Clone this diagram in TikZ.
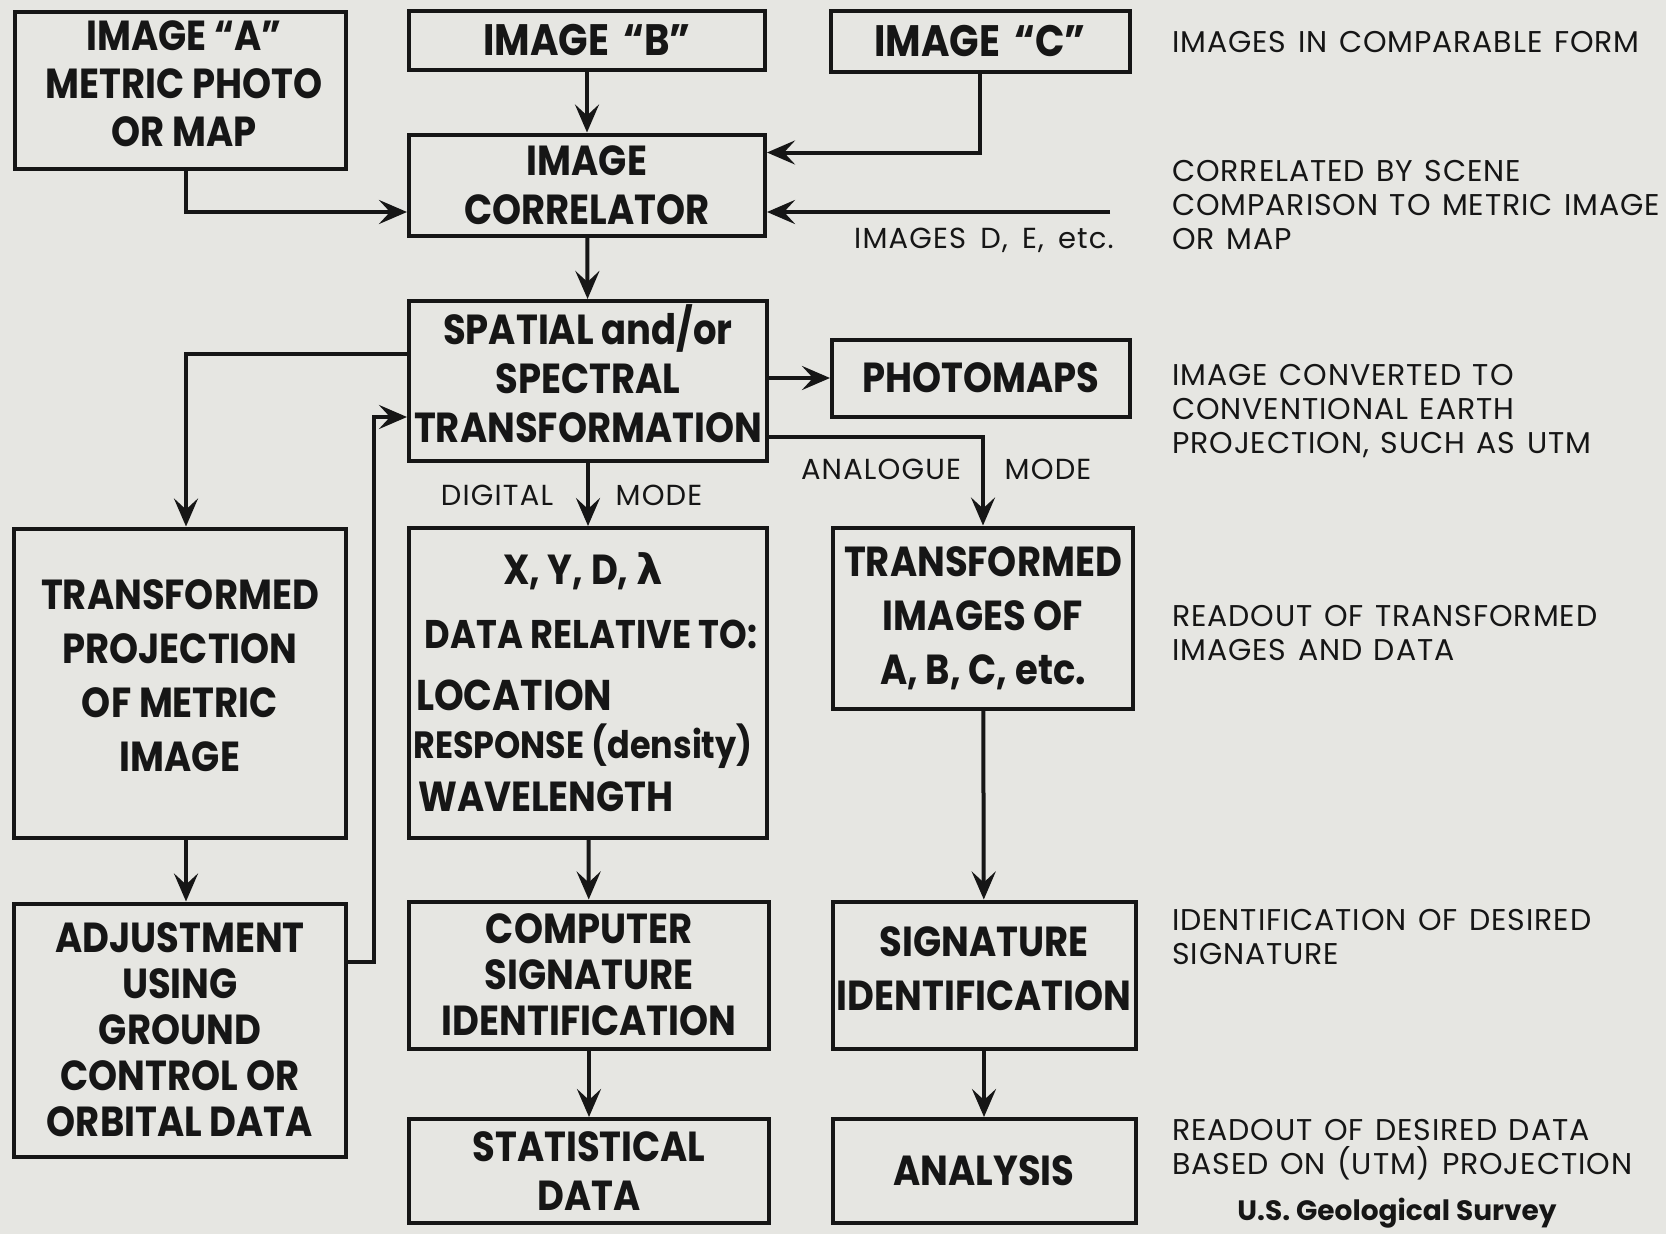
\documentclass[tikz,border=0pt]{standalone}
\usepackage{fontspec}
\usetikzlibrary{arrows.meta}
\newfontfamily\boxf{Poppins}[FakeStretch=0.88]
\newfontfamily\notef{Poppins}[LetterSpace=3,WordSpace=1.3]
\newfontfamily\lblf{Poppins}[LetterSpace=4,WordSpace=1.6]
\newfontfamily\usgsf{Poppins}
\newfontfamily\grk{DejaVu Sans}
\definecolor{paper}{RGB}{230,230,226}
\definecolor{ink}{RGB}{22,22,22}
\tikzset{
  box/.style={draw=ink, line width=4pt, inner sep=0pt, align=center, text=ink,
    font=\boxf\bfseries\fontsize{42}{49}\selectfont},
  intext/.style={inner sep=0pt, align=center, text=ink, font=\boxf\bfseries\fontsize{40}{46}\selectfont},
  conn/.style={draw=ink, line width=4pt, -{Stealth[length=28pt,width=24pt,inset=11pt]}},
  note/.style={anchor=west, align=left, text=ink, inner sep=0pt,
    font=\notef\fontsize{30}{34}\selectfont},
  lbl/.style={text=ink, inner sep=0pt, font=\lblf\fontsize{29}{32}\selectfont}
}
\begin{document}
\begin{tikzpicture}[x=1pt,y=-1pt]
\useasboundingbox (0,0) rectangle (1666,1234);
\fill[paper] (0,0) rectangle (1666,1234);

% boxes
\node[box, minimum width=331pt, minimum height=157pt] (a) at (180,90) {};
\node[intext, font=\boxf\bfseries\fontsize{42}{48}\selectfont] (atext) at (184,84) {IMAGE “A”\\METRIC PHOTO\\OR MAP};
\node[box, minimum width=356pt, minimum height=59pt, font=\boxf\bfseries\fontsize{44}{49}\selectfont] (b) at (587,40) {IMAGE\hspace{14pt}“B”};
\node[box, minimum width=299pt, minimum height=61pt, font=\boxf\bfseries\fontsize{44}{49}\selectfont] (c) at (980,41) {IMAGE\hspace{14pt}“C”};
\node[box, minimum width=356pt, minimum height=101pt] (corr) at (587,185) {IMAGE\\CORRELATOR};
\node[box, minimum width=358pt, minimum height=160pt] (sp) at (588,381) {};
\node[intext, font=\boxf\bfseries\fontsize{42}{49}\selectfont] (sptext) at (588,374) {SPATIAL and/or\\SPECTRAL\\TRANSFORMATION};
\node[box, minimum width=298pt, minimum height=77pt] (photo) at (981,378) {PHOTOMAPS};
\node[box, minimum width=332pt, minimum height=309pt] (tp) at (180,683) {};
\node[intext, font=\boxf\bfseries\fontsize{42}{54}\selectfont] (tptext) at (180,676) {TRANSFORMED\\PROJECTION\\OF METRIC\\IMAGE};
\node[box, minimum width=358pt, minimum height=310pt] (xyd) at (588,683) {};
\node[box, minimum width=300pt, minimum height=181pt, font=\boxf\bfseries\fontsize{42}{54}\selectfont] (ti) at (983,618) {TRANSFORMED\\IMAGES OF\\A, B, C, etc.};
\node[box, minimum width=332pt, minimum height=253pt, font=\boxf\bfseries\fontsize{42}{46}\selectfont] (adj) at (180,1030) {ADJUSTMENT\\USING\\GROUND\\CONTROL OR\\ORBITAL DATA};
\node[box, minimum width=360pt, minimum height=147pt, font=\boxf\bfseries\fontsize{42}{46}\selectfont] (comp) at (589,975) {COMPUTER\\SIGNATURE\\IDENTIFICATION};
\node[box, minimum width=360pt, minimum height=104pt] (stat) at (589,1171) {STATISTICAL\\DATA};
\node[box, minimum width=303pt, minimum height=147pt] (sig) at (984,975) {};
\node[intext, font=\boxf\bfseries\fontsize{42}{54}\selectfont] (sigtext) at (984,969) {SIGNATURE\\IDENTIFICATION};
\node[box, minimum width=303pt, minimum height=104pt] (ana) at (984,1171) {ANALYSIS};

% text inside the X,Y,D box
\node[intext, font=\boxf\bfseries\fontsize{42}{46}\selectfont] (x1) at (583,571) {X, Y, D, {\grk\bfseries λ}};
\node[intext] (x2) at (591,634) {DATA RELATIVE TO:};
\node[intext, anchor=west, font=\boxf\bfseries\fontsize{43}{46}\selectfont] (x3) at (416,695) {LOCATION};
\node[intext, anchor=west, font=\boxf\bfseries\fontsize{38}{46}\selectfont] (x4) at (413,746) {RESPONSE (density)};
\node[intext, anchor=west, font=\boxf\bfseries\fontsize{42}{46}\selectfont] (x5) at (418,797) {WAVELENGTH};

% connectors
\coordinate (de) at (1110,212);
\coordinate (bend) at (374,417);
\draw[conn] (b) -- (corr);
\draw[conn] (c.south) |- ([yshift=-20pt]corr.north east);
\draw[conn] (de) -- (de -| corr.east);
\draw[conn] ([xshift=6pt]a.south) |- (corr.west |- de);
\draw[conn] (corr) -- (sp);
\draw[conn] ([yshift=27pt]sp.west) -| ([xshift=6pt]tp.north);
\draw[conn] ([yshift=68pt]adj.east) -| (bend) -- (bend -| sp.west);
\draw[conn] (sp.east |- photo.west) -- (photo.west);
\draw[conn] ([yshift=-56pt]sp.east) -| (ti.north);
\draw[conn] (sp) -- (xyd);
\draw[conn] ([xshift=6pt]tp.south) -- ([xshift=6pt]adj.north);
\draw[conn] (xyd) -- (comp);
\draw[conn] (comp) -- (stat);
\draw[conn] (ti) -- (sig);
\draw[conn] (sig) -- (ana);

% connector labels
\node[lbl] (delbl) at (984,240) {IMAGES D, E, etc.};
\node[lbl] (dig) at (497,495) {DIGITAL};
\node[lbl] (dmode) at (659,495) {MODE};
\node[lbl] (ana1) at (881,469) {ANALOGUE};
\node[lbl] (amode) at (1048,469) {MODE};

% right-hand notes
\node[note] (n1) at (1172,42) {IMAGES IN COMPARABLE FORM};
\node[note] (n2) at (1172,205) {CORRELATED BY SCENE\\COMPARISON TO METRIC IMAGE\\OR MAP};
\node[note] (n3) at (1172,411) {IMAGE CONVERTED TO\\CONVENTIONAL EARTH\\PROJECTION, SUCH AS UTM};
\node[note] (n4) at (1172,633) {READOUT OF TRANSFORMED\\IMAGES AND DATA};
\node[note] (n5) at (1172,937) {IDENTIFICATION OF DESIRED\\SIGNATURE};
\node[note] (n6) at (1172,1150) {READOUT OF DESIRED DATA\\BASED ON (UTM) PROJECTION};
\node[text=ink, inner sep=0pt, font=\usgsf\bfseries\fontsize{28}{32}\selectfont] (usgs) at (1397,1213) {U.S. Geological Survey};
\end{tikzpicture}
\end{document}
